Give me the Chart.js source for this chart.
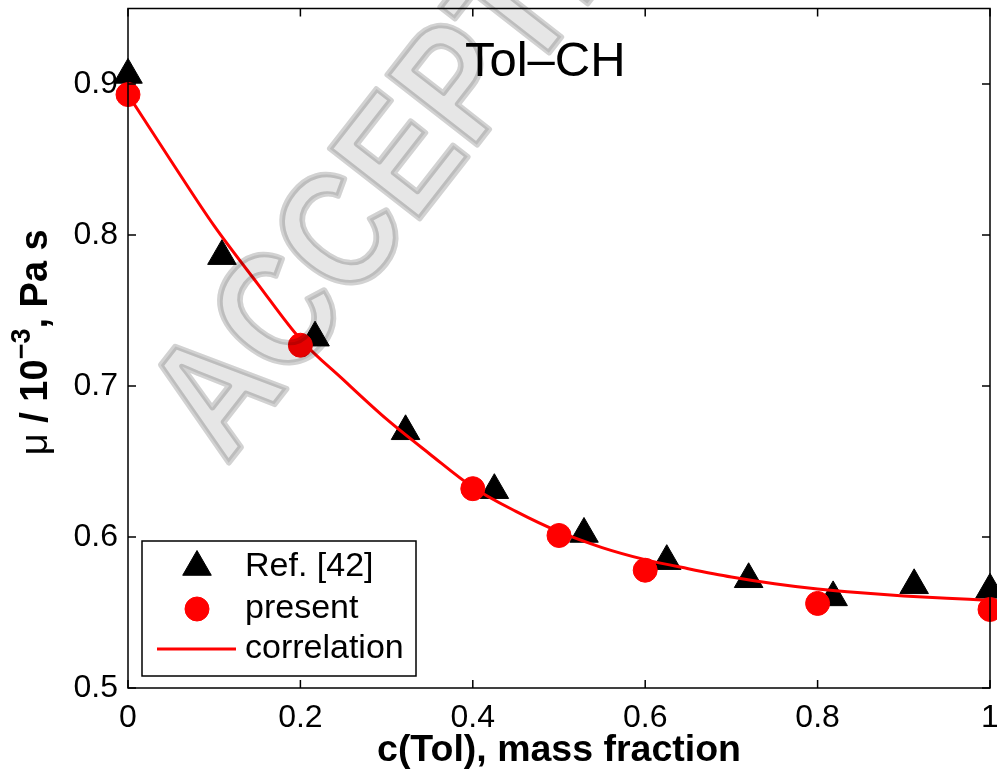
<!DOCTYPE html>
<html>
<head>
<meta charset="utf-8">
<title>Tol-CH viscosity</title>
<script src="https://cdn.jsdelivr.net/npm/chart.js@4.4.1/dist/chart.umd.min.js"></script>
<style>
	html, body { margin: 0; padding: 0; background: #fff; }
	#wrap { width: 997px; height: 775px; }
</style>
</head>
<body>
<div id="wrap"><canvas id="myChart" width="997" height="775"></canvas></div>
<script>
(function(){

	"use strict";

// Data
	const refX  = [0, 0.109, 0.217, 0.322, 0.425, 0.529, 0.625, 0.720, 0.818, 0.912, 1.0];
	const refMu = [0.906, 0.786, 0.732, 0.670, 0.631, 0.602, 0.584, 0.572, 0.560, 0.568, 0.565];

	const presentX  = [0, 0.2, 0.4, 0.5, 0.6, 0.8, 1.0];
	const presentMu = [0.893, 0.727, 0.632, 0.601, 0.578, 0.556, 0.552];

	const corrX  = [0, 0.05, 0.1, 0.15, 0.2, 0.25, 0.3, 0.35, 0.4, 0.45, 0.5, 0.55, 0.6, 0.65, 0.7, 0.75, 0.8, 0.85, 0.9, 0.95, 1];
	const corrMu = [0.893, 0.849, 0.806, 0.768, 0.731, 0.704, 0.678, 0.655, 0.633, 0.617, 0.6035, 0.593, 0.585, 0.579, 0.5735, 0.569, 0.5655, 0.563, 0.561, 0.5595, 0.558];

// Axes
	const xTicks = [0, 0.2, 0.4, 0.6, 0.8, 1];
	const xTickLabels = ["0", "0.2", "0.4", "0.6", "0.8", "1"];
	const yTicks = [0.5, 0.6, 0.7, 0.8, 0.9];
	const yTickLabels = ["0.5", "0.6", "0.7", "0.8", "0.9"];
	const yMin = 0.5, yMax = 0.95;

// Texts
	const legendLabels = ["Ref. [42]", "present", "correlation"];
	const xTitle = "c(Tol), mass fraction";
	const mixtureLabel = "Tol\u2013CH";
	const mixtureAt = [0.484, 0.914];
	const watermark = "ACCEPTED";

	const FONT = '"Liberation Sans", Arial, Helvetica, sans-serif';
	Chart.defaults.font.family = FONT;
	Chart.defaults.color = "#000";

	function pts(xs, ys){
		return xs.map(function(x, i){ return {x: x, y: ys[i]}; });
	}

// Frame with inward ticks on all four sides
	const framePlugin = {
		id: "frame",
		afterDatasetsDraw: function(chart){
			const ctx = chart.ctx;
			const a = chart.chartArea;
			const xs = chart.scales.x, ys = chart.scales.y;
			const tl = 8;
			ctx.save();
			ctx.strokeStyle = "#000";
			ctx.lineWidth = 1.5;
			ctx.strokeRect(a.left, a.top, a.right - a.left, a.bottom - a.top);
			ctx.beginPath();
			xTicks.forEach(function(v){
				const px = xs.getPixelForValue(v);
				ctx.moveTo(px, a.bottom); ctx.lineTo(px, a.bottom - tl);
				ctx.moveTo(px, a.top); ctx.lineTo(px, a.top + tl);
			});
			yTicks.forEach(function(v){
				const py = ys.getPixelForValue(v);
				ctx.moveTo(a.left, py); ctx.lineTo(a.left + tl, py);
				ctx.moveTo(a.right, py); ctx.lineTo(a.right - tl, py);
			});
			ctx.stroke();
			ctx.restore();
		}
	};

// Legend box inside the lower left corner
	const legendPlugin = {
		id: "boxLegend",
		afterDatasetsDraw: function(chart){
			const ctx = chart.ctx;
			const a = chart.chartArea;
			const left = a.left + 14, width = 274, height = 135;
			const top = a.bottom - 12 - height;
			const rows = [26, 68, 108];
			ctx.save();
			ctx.fillStyle = "#fff";
			ctx.fillRect(left, top, width, height);
			ctx.strokeStyle = "#000";
			ctx.lineWidth = 1.5;
			ctx.strokeRect(left, top, width, height);
			const ds = chart.data.datasets;
			// markers
			[ds[0], ds[1]].forEach(function(d, i){
				ctx.fillStyle = d.backgroundColor;
				ctx.strokeStyle = d.borderColor;
				ctx.lineWidth = 1;
				Chart.helpers.drawPoint(ctx, {pointStyle: d.pointStyle, radius: d.pointRadius, rotation: 0, borderWidth: 1}, left + 55, top + rows[i]);
			});
			ctx.strokeStyle = ds[2].borderColor;
			ctx.lineWidth = 3;
			ctx.beginPath();
			ctx.moveTo(left + 15, top + rows[2]);
			ctx.lineTo(left + 94, top + rows[2]);
			ctx.stroke();
			ctx.fillStyle = "#000";
			ctx.font = "34px " + FONT;
			ctx.textAlign = "left";
			ctx.textBaseline = "middle";
			legendLabels.forEach(function(t, i){
				ctx.fillText(t, left + 103, top + rows[i]);
			});
			ctx.restore();
		}
	};

// Texts: mixture label, y title with superscript, watermark
	const textPlugin = {
		id: "texts",
		afterDraw: function(chart){
			const ctx = chart.ctx;
			const a = chart.chartArea;
			const xs = chart.scales.x, ys = chart.scales.y;
			ctx.save();
			ctx.fillStyle = "#000";
			ctx.font = "49px " + FONT;
			ctx.textAlign = "center";
			ctx.textBaseline = "middle";
			ctx.fillText(mixtureLabel, xs.getPixelForValue(mixtureAt[0]), ys.getPixelForValue(mixtureAt[1]));

			// y axis title: mu / 10^-3, Pa s
			const parts = [
				{t: "\u03bc", f: "38px " + FONT, dy: 0},
				{t: " / 10", f: "bold 38px " + FONT, dy: 0},
				{t: "\u22123", f: "bold 27px " + FONT, dy: -14},
				{t: ", Pa s", f: "bold 38px " + FONT, dy: 0}
			];
			let total = 0;
			parts.forEach(function(p){ ctx.font = p.f; p.w = ctx.measureText(p.t).width; total += p.w; });
			ctx.translate(37, (a.top + a.bottom) / 2 - 6);
			ctx.rotate(-Math.PI / 2);
			ctx.textAlign = "left";
			let cx = -total / 2;
			parts.forEach(function(p){
				ctx.font = p.f;
				ctx.fillText(p.t, cx, p.dy);
				cx += p.w;
			});
			ctx.restore();

			// journal watermark, laid over everything
			ctx.save();
			ctx.globalCompositeOperation = "multiply";
			ctx.translate(a.left + 300, a.top + 125);
			ctx.rotate(-52 * Math.PI / 180);
			ctx.scale(0.85, 1);
			ctx.font = "bold 165px " + FONT;
			ctx.textAlign = "center";
			ctx.textBaseline = "middle";
			ctx.lineJoin = "round";
			ctx.strokeStyle = "#d2d2d2";
			ctx.lineWidth = 6;
			ctx.strokeText(watermark, 0, 0);
			ctx.fillStyle = "#e6e6e6";
			ctx.fillText(watermark, 0, 0);
			ctx.restore();
		}
	};

	const data = {
		datasets: [{
			label: legendLabels[0],
			data: pts(refX, refMu),
			pointStyle: "triangle",
			pointRadius: 16.5,
			backgroundColor: "#000",
			borderColor: "#000",
			borderWidth: 1,
			showLine: false,
			clip: false,
			order: 2
		},
		{
			label: legendLabels[1],
			data: pts(presentX, presentMu),
			pointStyle: "circle",
			pointRadius: 12,
			backgroundColor: "#ff0000",
			borderColor: "#ff0000",
			borderWidth: 1,
			showLine: false,
			clip: false,
			order: 1
		},
		{
			label: legendLabels[2],
			data: pts(corrX, corrMu),
			showLine: true,
			pointRadius: 0,
			borderColor: "#ff0000",
			backgroundColor: "#ff0000",
			borderWidth: 3,
			cubicInterpolationMode: "monotone",
			clip: false,
			order: 0
		}]
	};

	const config = {
		type: "scatter",
		data: data,
		options: {
			responsive: false,
			animation: false,
			events: [],
			layout: { autoPadding: false, padding: { top: 8.5, right: 7, left: 0, bottom: 0 } },
			plugins: { legend: { display: false }, tooltip: { enabled: false } },
			scales: {
				x: {
					type: "linear",
					min: 0, max: 1,
					grid: { display: false, drawTicks: false },
					border: { display: false },
					afterBuildTicks: function(s){ s.ticks = xTicks.map(function(v){ return {value: v}; }); },
					afterFit: function(s){ s.height = 87; s.paddingLeft = 0; s.paddingRight = 0; },
					ticks: {
						font: { size: 32 },
						padding: 11,
						maxRotation: 0,
						callback: function(v, i){ return xTickLabels[i]; }
					},
					title: {
						display: true,
						text: xTitle,
						font: { size: 37.5, weight: "bold" },
						padding: { top: 0, bottom: 2 }
					}
				},
				y: {
					type: "linear",
					min: yMin, max: yMax,
					grid: { display: false, drawTicks: false },
					border: { display: false },
					afterBuildTicks: function(s){ s.ticks = yTicks.map(function(v){ return {value: v}; }); },
					afterFit: function(s){ s.width = 128; s.paddingTop = 0; s.paddingBottom = 0; },
					ticks: {
						font: { size: 32 },
						padding: 10,
						callback: function(v, i){ return yTickLabels[i]; }
					}
				}
			}
		},
		plugins: [framePlugin, legendPlugin, textPlugin]
	};

	new Chart(document.getElementById("myChart"), config);

})();
</script>
</body>
</html>
